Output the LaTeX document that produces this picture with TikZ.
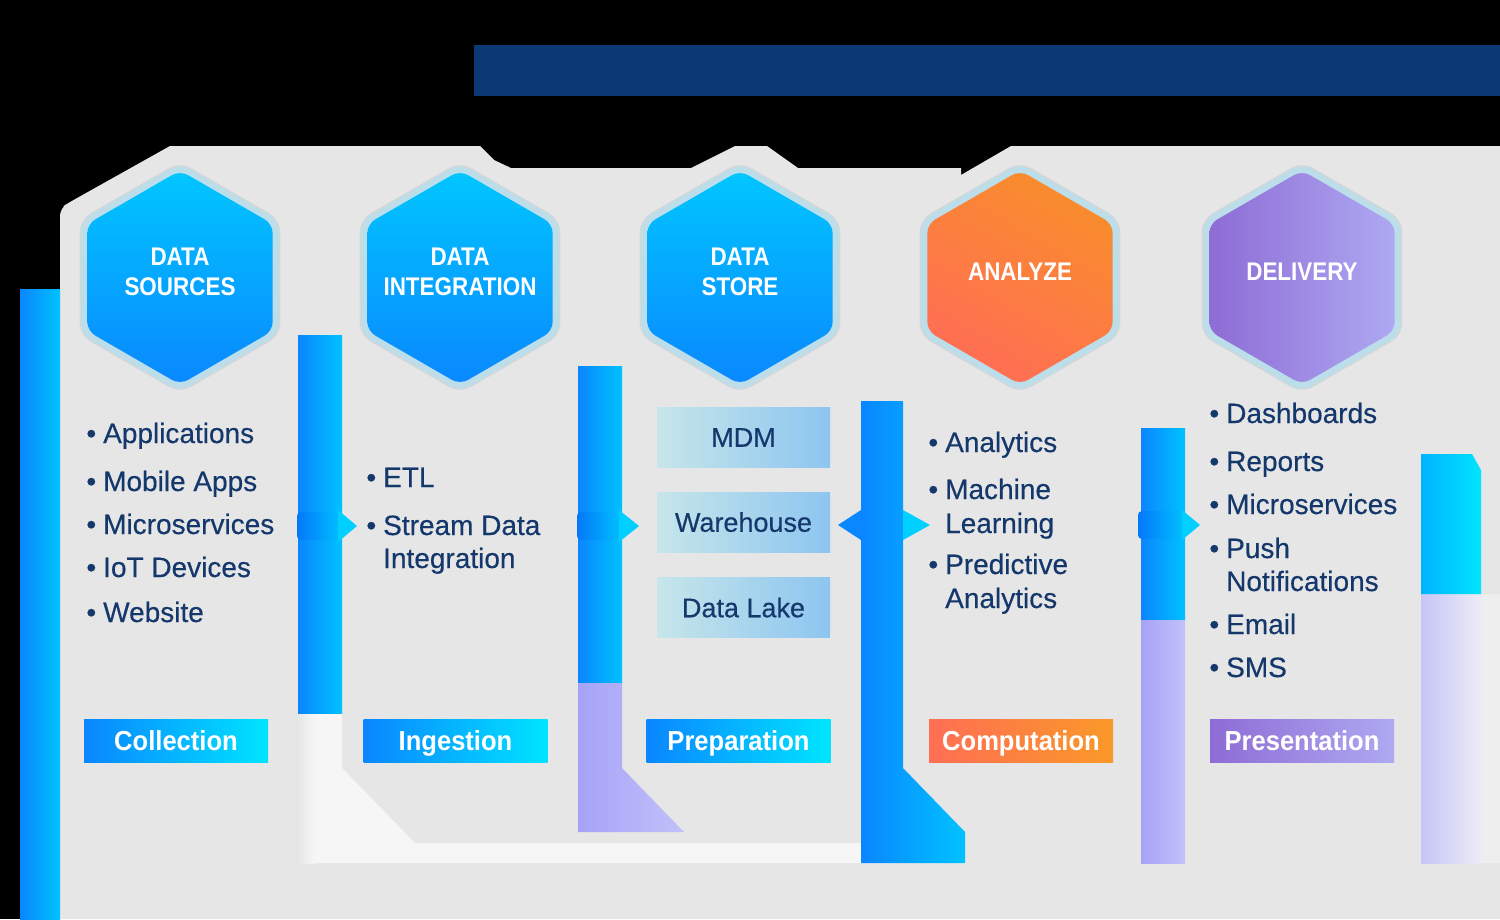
\documentclass[tikz,border=0pt]{standalone}
\usepackage{fontspec}
\setmainfont{Liberation Sans}
\newfontfamily\condfont[FakeStretch=0.93]{Liberation Sans}
\newfontfamily\hexfont[FakeStretch=0.88]{Liberation Sans}
\newfontfamily\bodyfont[FakeBold=0.4]{Liberation Sans}
\usetikzlibrary{shapes.geometric}

\definecolor{titlebar}{HTML}{0C3873}
\definecolor{panel}{HTML}{E6E6E6}
\definecolor{band}{HTML}{F6F6F6}
\definecolor{navy}{HTML}{15386C}
\definecolor{ring}{HTML}{BBDEEA}
\definecolor{ringedge}{HTML}{D2D8DA}
\definecolor{blueA}{HTML}{0A86FF}
\definecolor{blueB}{HTML}{00C2FF}
\definecolor{blueC}{HTML}{0478FA}
\definecolor{cyanA}{HTML}{00B4FF}
\definecolor{cyanB}{HTML}{00E4FF}
\definecolor{tipcyan}{HTML}{00D0FF}
\definecolor{hexblueT}{HTML}{00C6FF}
\definecolor{hexblueB}{HTML}{0A88FF}
\definecolor{orangeA}{HTML}{F98D2C}
\definecolor{orangeB}{HTML}{FF6E55}
\definecolor{purpleA}{HTML}{8E6CD5}
\definecolor{purpleB}{HTML}{AEA9F2}
\definecolor{lilacA}{HTML}{A6A3F7}
\definecolor{lilacB}{HTML}{C1C1FA}
\definecolor{paleA}{HTML}{C6C5F6}
\definecolor{paleB}{HTML}{ECECF8}
\definecolor{storeA}{HTML}{C6E6EA}
\definecolor{storeB}{HTML}{8DC5F0}

\newcommand{\itembul}{\llap{\textbullet\hspace{7pt}}}

\begin{document}
\begin{tikzpicture}[x=1pt,y=-1pt,
  hex/.style={regular polygon,regular polygon sides=6,shape border rotate=30,
    minimum size=214pt,inner sep=0pt,rounded corners=9pt},
  hexring/.style={hex,minimum size=230pt,fill=ring,draw=ringedge,line width=1.5pt,rounded corners=12pt},
  hexlabel/.style={text=white,align=center,inner sep=0pt,font=\hexfont\bfseries\fontsize{25.5}{30}\selectfont},
  item/.style={anchor=base west,inner sep=0pt,text=navy,font=\bodyfont\fontsize{28}{34}\selectfont},
  stagebox/.style={minimum width=184pt,minimum height=43pt,inner sep=0pt,text=white,
    text height=19.5pt,text depth=0pt,font=\condfont\bfseries\fontsize{27.5}{30}\selectfont},
  storebox/.style={minimum width=173pt,minimum height=60pt,inner sep=0pt,left color=storeA,right color=storeB,
    text=navy,text height=19.5pt,text depth=0pt,font=\bodyfont\fontsize{27}{30}\selectfont},
  barblue/.style={left color=blueA,right color=blueB},
  barlilac/.style={left color=lilacA,right color=lilacB},
  tipbody/.style={left color=blueC,right color=blueB},
  tip/.style={fill=tipcyan}]

  \useasboundingbox (0,0) rectangle (1500,919);
  \fill[black] (0,0) rectangle (1500,919);

  % title bar and panel
  \fill[titlebar] (474,45) rectangle (1500,96);
  \fill[panel] (60,919) -- (60,214) [rounded corners=8pt] -- (60,208) -- (70,202) [sharp corners]
    -- (170,146) -- (480,146) -- (494,160) -- (511,168) -- (691,168) -- (735,146) -- (767,146)
    -- (798,168) -- (961,168) -- (961,175) -- (1011,146) -- (1500,146) -- (1500,919) -- cycle;

  % bars between the stages
  \shade[barblue] (20,289) rectangle (60,919);

  \fill[band] (298,713) -- (342,713) -- (342,768) -- (415,843) -- (861,843) -- (861,863) -- (298,863) -- cycle;
  \shade[left color=panel,right color=band] (298,713) rectangle (314,863);
  \shade[barblue] (298,335) rectangle (342,713);

  \shade[barblue] (578,366) rectangle (622,683);
  \shade[barlilac] (578,683) -- (622,683) -- (622,768) -- (684,832) -- (578,832) -- cycle;

  \shade[barblue] (861,401) -- (903,401) -- (903,768) -- (965,832) -- (965,863) -- (861,863) -- cycle;

  \shade[barblue] (1141,428) rectangle (1185,620);
  \shade[barlilac] (1141,620) rectangle (1185,863);

  \fill[band!50!panel] (1481,594) rectangle (1500,863);
  \shade[left color=paleA,right color=paleB] (1421,594) rectangle (1481,863);
  \shade[left color=cyanA,right color=cyanB] (1421,454) -- (1472,454) -- (1481,470) -- (1481,594) -- (1421,594) -- cycle;

  % arrow tips
  \shade[tipbody,rounded corners=4pt] (297,512) rectangle (342,540);
  \fill[tip] (338,510) -- (357,526) -- (338,542) -- cycle;
  \shade[tipbody,rounded corners=4pt] (577,512) rectangle (622,540);
  \fill[tip] (619,510) -- (639,526) -- (619,542) -- cycle;
  \fill[blueA] (861,510) -- (838,525) -- (861,540) -- cycle;
  \fill[tip] (903,510) -- (930,525) -- (903,540) -- cycle;
  \shade[tipbody,rounded corners=4pt] (1138,511) rectangle (1185,539);
  \fill[tip] (1182,510) -- (1200,525) -- (1182,540) -- cycle;

  % hexagons
  \node[hexring] (src ring) at (180,277.5) {};
  \node[hex,top color=hexblueT,bottom color=hexblueB] (src) at (180,277.5) {};
  \node[hexring] (integ ring) at (460,277.5) {};
  \node[hex,top color=hexblueT,bottom color=hexblueB] (integ) at (460,277.5) {};
  \node[hexring] (store ring) at (740,277.5) {};
  \node[hex,top color=hexblueT,bottom color=hexblueB] (store) at (740,277.5) {};
  \node[hexring] (analyze ring) at (1020,277.5) {};
  \node[hex,top color=orangeA,bottom color=orangeB,shading angle=-30] (analyze) at (1020,277.5) {};
  \node[hexring] (deliv ring) at (1302,277.5) {};
  \node[hex,left color=purpleA,right color=purpleB] (deliv) at (1302,277.5) {};

  \node[hexlabel] (src label) at ([yshift=5.5pt]src.center) {DATA\\SOURCES};
  \node[hexlabel] (integ label) at ([yshift=5.5pt]integ.center) {DATA\\INTEGRATION};
  \node[hexlabel] (store label) at ([yshift=5.5pt]store.center) {DATA\\STORE};
  \node[hexlabel] (analyze label) at ([yshift=5.5pt]analyze.center) {ANALYZE};
  \node[hexlabel] (deliv label) at ([yshift=5.5pt]deliv.center) {DELIVERY};

  % item lists
  \foreach \txt/\yy in {Applications/443,Mobile Apps/491,Microservices/534,IoT Devices/577,Website/622}
    \node[item] (src-\yy) at (103,\yy) {\itembul\txt};

  \node[item] (etl) at (383,487) {\itembul ETL};
  \node[item] (stream) at (383,535) {\itembul Stream Data};
  \node[item] (stream2) at (383,568) {Integration};

  \node[storebox] (mdm) at (743.5,437) {MDM};
  \node[storebox] (warehouse) at (743.5,522) {Warehouse};
  \node[storebox] (lake) at (743.5,607.5) {Data Lake};

  \node[item] (analytics) at (945,452) {\itembul Analytics};
  \node[item] (ml) at (945,499) {\itembul Machine};
  \node[item] (ml2) at (945,533) {Learning};
  \node[item] (pred) at (945,574) {\itembul Predictive};
  \node[item] (pred2) at (945,608) {Analytics};

  \foreach \txt/\yy in {Dashboards/423,Reports/471,Microservices/514,Push/558,Email/634,SMS/677}
    \node[item] (deliv-\yy) at (1226,\yy) {\itembul\txt};
  \node[item] (push2) at (1226,591) {Notifications};

  % stage boxes
  \node[stagebox,left color=blueA,right color=cyanB] (collection) at (176,741) {Collection};
  \node[stagebox,left color=blueA,right color=cyanB] (ingestion) at (455.5,741) {Ingestion};
  \node[stagebox,left color=blueA,right color=cyanB] (preparation) at (738.5,741) {Preparation};
  \node[stagebox,left color=orangeB,right color=orangeA!90!yellow] (computation) at (1021,741) {Computation};
  \node[stagebox,left color=purpleA,right color=purpleB] (presentation) at (1302,741) {Presentation};
\end{tikzpicture}
\end{document}
